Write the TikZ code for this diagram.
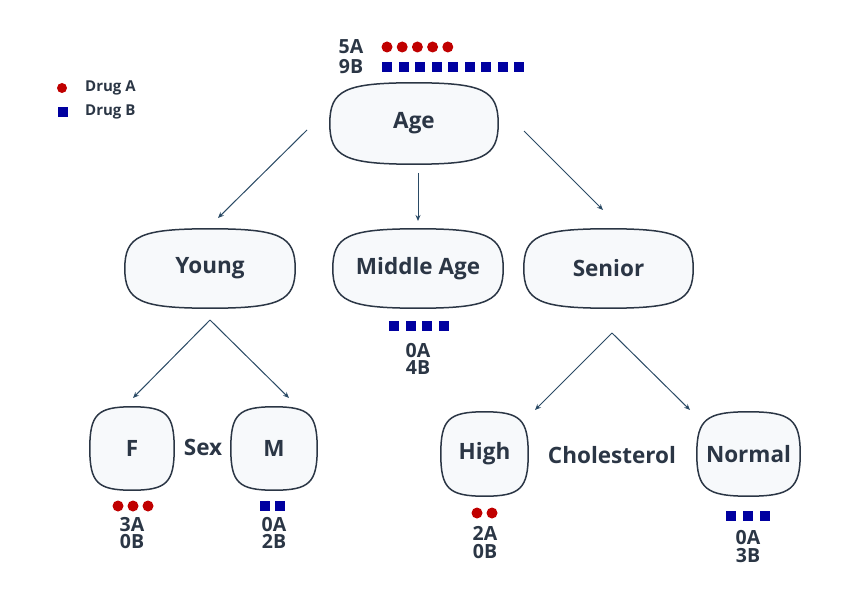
\documentclass[tikz,border=0pt]{standalone}
\usepackage{fontspec}
\setmainfont{Open Sans}
\usetikzlibrary{calc,arrows.meta,backgrounds}
\definecolor{ink}{HTML}{2B3645}
\definecolor{edgec}{HTML}{2A4A65}
\definecolor{fillc}{HTML}{F7F9FB}
\definecolor{drugA}{HTML}{C00000}
\definecolor{drugB}{HTML}{0000A0}
\newcommand\blobdraw[1]{%
  \draw[blobline] (#1.east)
  .. controls ($(#1.east)!0.82!(#1.north east)$) and ($(#1.north)!0.82!(#1.north east)$) .. (#1.north)
  .. controls ($(#1.north)!0.82!(#1.north west)$) and ($(#1.west)!0.82!(#1.north west)$) .. (#1.west)
  .. controls ($(#1.west)!0.82!(#1.south west)$) and ($(#1.south)!0.82!(#1.south west)$) .. (#1.south)
  .. controls ($(#1.south)!0.82!(#1.south east)$) and ($(#1.east)!0.82!(#1.south east)$) .. (#1.east) -- cycle;}
\begin{document}
\begin{tikzpicture}[x=1pt,y=-1pt,
  box/.style={inner sep=0pt, text=ink, font=\fontsize{22.5}{22.5}\selectfont\bfseries},
  blobline/.style={draw=ink, line width=1.5pt, fill=fillc},
  lab/.style={inner sep=0pt, text=ink, font=\fontsize{22.5}{22.5}\selectfont\bfseries},
  cnt/.style={inner sep=0pt, text=ink, text height=14pt, text depth=0pt, font=\fontsize{19.5}{19.5}\selectfont\bfseries},
  leg/.style={inner sep=0pt, anchor=west, text=ink, font=\fontsize{15}{15}\selectfont\bfseries},
  arr/.style={draw=edgec, line width=1pt, -{Stealth[length=6pt,width=5pt]}},
  dotA/.style={fill=drugA},
  sqB/.style={fill=drugB}]
\useasboundingbox (0,0) rectangle (858,601);

% nodes
\node[box, minimum width=168pt, minimum height=81pt] (age) at (414,123.5) {Age};
\node[box, minimum width=170pt, minimum height=79pt] (young) at (210,268.5) {Young};
\node[box, minimum width=170pt, minimum height=79pt] (mid) at (418,268.5) {Middle Age};
\node[box, minimum width=169pt, minimum height=79pt] (senior) at (608.5,268.5) {Senior};
\node[box, minimum width=84pt, minimum height=83pt] (f) at (132,448.5) {F};
\node[box, minimum width=86pt, minimum height=83pt] (m) at (274,448.5) {M};
\node[box, minimum width=87pt, minimum height=84pt] (high) at (484.5,454) {High};
\node[box, minimum width=103pt, minimum height=84pt] (normal) at (748.5,454) {Normal};

\begin{scope}[on background layer]
  \foreach \n in {age,young,mid,senior,f,m,high,normal} {\blobdraw{\n}}
\end{scope}

% attribute labels
\node[lab] (sex) at (203,447) {Sex};
\node[lab] (chol) at (612,455) {Cholesterol};

% arrows
\coordinate (a1) at (307,130);
\coordinate (a1e) at (218,218);
\coordinate (a2) at (418,173);
\coordinate (a2e) at (418,221);
\coordinate (a3) at (524,131);
\coordinate (a3e) at (603,210);
\coordinate (ys) at (210,320);
\coordinate (fe) at (133,398);
\coordinate (me) at (289,398);
\coordinate (ss) at (612,333);
\coordinate (he) at (535,410);
\coordinate (ne) at (690,410);
\draw[arr] (a1) -- (a1e);
\draw[arr] (a2) -- (a2e);
\draw[arr] (a3) -- (a3e);
\draw[arr] (ys) -- (fe);
\draw[arr] (ys) -- (me);
\draw[arr] (ss) -- (he);
\draw[arr] (ss) -- (ne);

% legend
\fill[dotA] (62,88) circle (5pt);
\fill[sqB] (58,107) rectangle (68,117);
\node[leg] (legA) at (85,88) {Drug A};
\node[leg] (legB) at (85,112) {Drug B};

% root counts
\node[cnt] (c5a) at (351,47) {5A};
\node[cnt] (c9b) at (351,67) {9B};
\foreach \i in {0,...,4} {\fill[dotA] (387+15.2*\i,47) circle (5.5pt);}
\foreach \i in {0,...,8} {\fill[sqB] (382+16.5*\i,62) rectangle +(10,10);}

% middle age counts
\foreach \i in {0,...,3} {\fill[sqB] (389+16.7*\i,321) rectangle +(10,10);}
\node[cnt] (cmid1) at (418,350) {0A};
\node[cnt] (cmid2) at (418,367.5) {4B};

% F counts
\foreach \i in {0,...,2} {\fill[dotA] (118+15*\i,506) circle (5.5pt);}
\node[cnt] (cf1) at (132,524) {3A};
\node[cnt] (cf2) at (132,541.5) {0B};

% M counts
\foreach \i in {0,...,1} {\fill[sqB] (260+14.5*\i,501) rectangle +(10,10);}
\node[cnt] (cm1) at (274,524) {0A};
\node[cnt] (cm2) at (274,541.5) {2B};

% High counts
\foreach \i in {0,...,1} {\fill[dotA] (477+15*\i,513) circle (5.5pt);}
\node[cnt] (ch1) at (485,533.5) {2A};
\node[cnt] (ch2) at (485,551) {0B};

% Normal counts
\foreach \i in {0,...,2} {\fill[sqB] (726+17*\i,511) rectangle +(10,10);}
\node[cnt] (cn1) at (748,537.5) {0A};
\node[cnt] (cn2) at (748,555) {3B};
\end{tikzpicture}
\end{document}
